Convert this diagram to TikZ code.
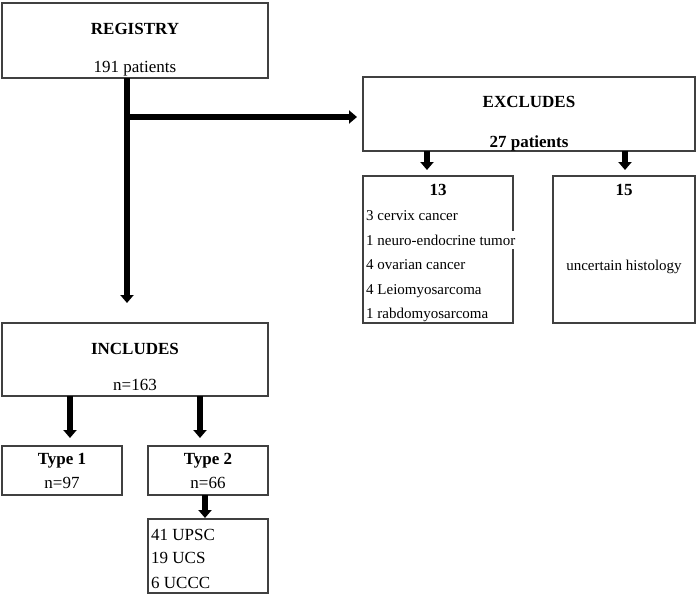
\documentclass[tikz,border=0pt]{standalone}
\usepackage{fontspec}
\setmainfont{Liberation Serif}
\usetikzlibrary{arrows.meta}
\begin{document}
\begin{tikzpicture}[x=1pt,y=-1pt,
  box/.style={draw=black!75, line width=1.1pt, inner sep=0pt, outer sep=0pt},
  big/.style={font=\fontsize{17}{20}\selectfont, inner sep=0pt, anchor=base},
  bigb/.style={font=\fontsize{17}{20}\selectfont\bfseries, inner sep=0pt, anchor=base},
  small/.style={font=\fontsize{15}{18}\selectfont, inner sep=0pt, anchor=base west},
  arr/.style={line width=5.5pt, -{Triangle[width=13pt,length=8pt]}}]
\useasboundingbox (0,0) rectangle (700,596);
% boxes
\node[box, minimum width=266pt, minimum height=75pt] (reg) at (135,40.5) {};
\node[box, minimum width=332pt, minimum height=74pt] (exc) at (529,114) {};
\node[box, minimum width=150pt, minimum height=147pt] (b13) at (438,249.5) {};
\node[box, minimum width=142pt, minimum height=147pt] (b15) at (624,249.5) {};
\node[box, minimum width=266pt, minimum height=73pt] (inc) at (135,359.5) {};
\node[box, minimum width=120pt, minimum height=49pt] (t1) at (62,470.5) {};
\node[box, minimum width=120pt, minimum height=49pt] (t2) at (208,470.5) {};
\node[box, minimum width=120pt, minimum height=74pt] (sub) at (208,556) {};
% texts
\node[bigb] (regT) at (135,35) {REGISTRY};
\node[big] (regN) at (135,73) {191 patients};
\node[bigb] (excT) at (529,108) {EXCLUDES};
\node[bigb] (excN) at (529,147) {27 patients};
\node[bigb] (n13) at (438,195) {13};
\node[small] (l1) at (366,220) {3 cervix cancer};
\node[small, fill=white, inner ysep=4pt] (l2) at (366,245) {1 neuro-endocrine tumor};
\node[small] (l3) at (366,269) {4 ovarian cancer};
\node[small] (l4) at (366,294) {4 Leiomyosarcoma};
\node[small] (l5) at (366,318) {1 rabdomyosarcoma};
\node[bigb] (n15) at (624,195) {15};
\node[big, font=\fontsize{15}{18}\selectfont] (unc) at (624,270) {uncertain histology};
\node[bigb] (incT) at (135,354) {INCLUDES};
\node[big] (incN) at (135,390) {n=163};
\node[bigb] (t1T) at (62,464) {Type 1};
\node[big] (t1N) at (62,488) {n=97};
\node[bigb] (t2T) at (208,464) {Type 2};
\node[big] (t2N) at (208,488) {n=66};
\node[big, anchor=base west] (s1) at (151,540) {41 UPSC};
\node[big, anchor=base west] (s2) at (151,563) {19 UCS};
\node[big, anchor=base west] (s3) at (151,588) {6 UCCC};
% connectors
\coordinate (br) at (127,117);
\draw[arr, shorten >=20pt] (reg.south -| br) -- (br |- inc.north);
\draw[arr, shorten >=6pt] (br) -- (br -| exc.west);
\draw[arr, shorten >=6pt] ([xshift=-102pt]exc.south) -- ([xshift=-102pt]exc.south |- b13.north);
\draw[arr, shorten >=6pt] ([xshift=96pt]exc.south) -- ([xshift=96pt]exc.south |- b15.north);
\draw[arr, shorten >=8pt] ([xshift=-65pt]inc.south) -- ([xshift=-65pt]inc.south |- t1.north);
\draw[arr, shorten >=8pt] ([xshift=65pt]inc.south) -- ([xshift=65pt]inc.south |- t2.north);
\draw[arr, shorten >=1pt] ([xshift=-3pt]t2.south) -- ([xshift=-3pt]t2.south |- sub.north);
\end{tikzpicture}
\end{document}
